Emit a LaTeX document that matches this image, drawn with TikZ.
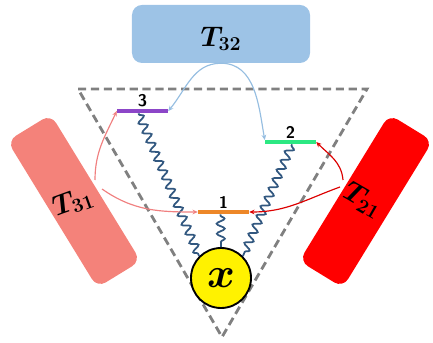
\documentclass[tikz,border=0pt]{standalone}
\usepackage{amsmath,amssymb}
\usepackage{bm}
\usepackage{graphicx}
\usepackage{xcolor}
\usetikzlibrary{arrows.meta,decorations.pathmorphing,calc,positioning}

\definecolor{boxblue}{RGB}{157,195,230}
\definecolor{boxpink}{RGB}{244,130,122}
\definecolor{boxred}{RGB}{255,0,0}
\definecolor{lvlpurple}{RGB}{140,70,200}
\definecolor{lvlgreen}{RGB}{44,232,130}
\definecolor{lvlorange}{RGB}{237,135,40}
\definecolor{coil}{RGB}{50,88,128}
\definecolor{arrblue}{RGB}{150,190,225}
\definecolor{arrpink}{RGB}{240,128,128}
\definecolor{arrred}{RGB}{220,0,0}

\newcommand{\tname}[1]{\scalebox{1.4}{$\bm{T_{#1}}$}}

\begin{document}
\begin{tikzpicture}[x=0.03cm,y=0.03cm,every node/.style={font=\small},
  tbox/.style={rounded corners=0.3cm,minimum width=5.16cm,minimum height=1.53cm,inner sep=0pt},
  tlab/.style={font=\LARGE,inner sep=0pt},
  level/.style={minimum width=1.53cm,minimum height=0.13cm,inner sep=0pt},
  lvlnum/.style={font=\sffamily\bfseries\Large,inner sep=1pt},
  wave/.style={coil,line width=1.5pt,decorate,
    decoration={snake,amplitude=1.2mm,segment length=3mm,pre length=1pt,post length=1pt}},
  tip/.style={-{Stealth[length=4.5pt,width=4pt]},line width=1pt}]
\useasboundingbox (0,0) rectangle (433,342);

% dashed triangle
\draw[gray,line width=2.4pt,dash pattern=on 7pt off 4pt] (78,253) -- (367,253) -- (222,5) -- cycle;

% reservoirs
\node[tbox,fill=boxblue,minimum width=5.34cm,minimum height=1.74cm] (t32) at (221,308) {};
\node[tlab] (t32lab) at (221,303) {\tname{32}};
\node[tbox,fill=boxpink,rotate=-58.5] (t31) at (74,141) {};
\node[tlab,rotate=20] (t31lab) at (73,140) {\tname{31}};
\node[tbox,fill=boxred,rotate=58.5] (t21) at (366,141) {};
\node[tlab,rotate=-30] (t21lab) at (363,142) {\tname{21}};

% levels
\node[level,fill=lvlpurple] (l3) at (142.5,231) {};
\node[lvlnum,above=0pt of l3] (n3) {3};
\node[level,fill=lvlgreen] (l2) at (290.5,200) {};
\node[lvlnum,above=0pt of l2] (n2) {2};
\node[level,fill=lvlorange] (l1) at (223.5,130) {};
\node[lvlnum,above=0pt of l1] (n1) {1};

% system
\node[circle,draw=black,line width=1.6pt,fill=yellow,minimum size=1.8cm,inner sep=0pt,
  font=\Huge] (sys) at (221,64) {\scalebox{1.45}{$\bm{x}$}};

% couplings
\draw[wave] ($(l3.south)+(-4,0)$) -- (sys.135);
\draw[wave] ($(l2.south)+(1.5,0)$) -- (sys.45);
\draw[wave] ($(l1.south)+(-3,0)$) -- (sys.north);

% transitions
\coordinate (p31a) at (95,162);
\coordinate (p31b) at (102,153);
\coordinate (p21a) at (343,162);
\coordinate (p21b) at (340,155);
\draw[tip,arrblue] (t32.south) to[out=180,in=50] (l3.east);
\draw[tip,arrblue] (t32.south) to[out=0,in=100] ($(l2.west)+(0,2)$);
\draw[tip,arrpink] (p31a) to[out=90,in=245] (l3.west);
\draw[tip,arrpink] (p31b) to[out=-35,in=180] (l1.west);
\draw[tip,arrred] (p21a) to[out=95,in=-45] (l2.east);
\draw[tip,arrred] (p21b) to[out=200,in=0] (l1.east);
\end{tikzpicture}
\end{document}
